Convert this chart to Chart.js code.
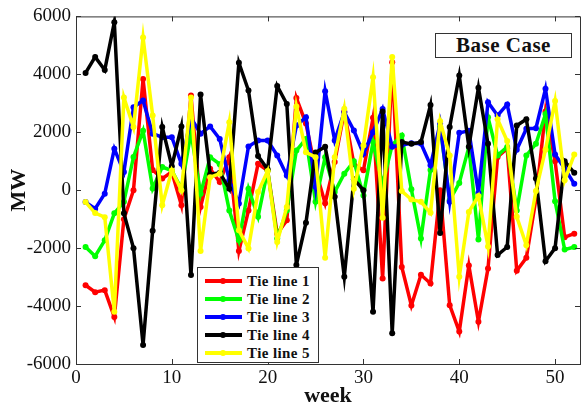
<!DOCTYPE html>
<html>
<head>
<meta charset="utf-8">
<script src="https://cdn.jsdelivr.net/npm/chart.js@4.4.1/dist/chart.umd.min.js"></script>
<style>
    html, body { margin: 0; padding: 0; background: #fff; overflow: hidden; }
    #wrap { position: relative; width: 583px; height: 410px; }
    #grafico { position: absolute; left: 0; top: 0; }
    .caixa { position: absolute; background: #fff; border: 1px solid #333; box-sizing: border-box;
             font-family: "Liberation Serif", "Times New Roman", serif; font-weight: bold; color: #111; }
    #legenda { left: 197px; top: 267px; width: 122px; height: 96px; padding-top: 4px; }
    .item { position: relative; height: 18px; }
    .traco { position: absolute; left: 7px; top: 7px; width: 37px; height: 4px; }
    .ponto { position: absolute; left: 22px; top: 6px; width: 6px; height: 6px; border-radius: 3px; }
    .nome { position: absolute; left: 49px; top: 0; font-size: 15px; letter-spacing: 0.4px; line-height: 18px; white-space: nowrap; }
    #titulo { left: 435px; top: 33px; width: 137px; height: 25px; font-size: 21px; letter-spacing: 0.5px; line-height: 23px; text-align: center; }
</style>
</head>
<body>
<div id="wrap">
    <canvas id="grafico" width="583" height="410"></canvas>
    <div id="legenda" class="caixa"></div>
    <div id="titulo" class="caixa">Base Case</div>
</div>
<script>
const semanas = [1, 2, 3, 4, 5, 6, 7, 8, 9, 10, 11, 12, 13, 14, 15, 16, 17, 18, 19, 20, 21, 22, 23, 24, 25, 26,
                 27, 28, 29, 30, 31, 32, 33, 34, 35, 36, 37, 38, 39, 40, 41, 42, 43, 44, 45, 46, 47, 48, 49, 50, 51, 52];

const tieLine1 = [-3280, -3520, -3450, -4380, -1000, 0, 3840, 700, 400, 630, -520, 3270, -580, 740, 280, 1140,
                  -2100, -700, 910, 680, -1500, -1040, 3180, 2300, 700, -450, 970, 2720, 900, 690, 2500, -3050,
                  4420, -2650, -3980, -2920, -3220, 0, -3970, -4880, -2600, -4540, -2700, 1150, 1440, -2780,
                  -2330, -300, 2720, 1000, -1620, -1500];
const tieLine2 = [-1960, -2280, -1730, -800, -400, 1150, 2050, 60, 800, 680, 50, 2000, -120, 1140, 900, -700,
                  -1730, 50, -920, 680, -1670, -700, 1370, 1770, -400, 1140, -60, 570, 1000, -180, 1660, 200,
                  1560, 1890, 30, -1670, 700, 2200, -350, 250, 1490, -1700, 2520, 1200, 1490, -700, 1200, 1600,
                  2630, -380, -2050, -1960];
const tieLine3 = [-410, -640, -120, 1430, 630, 2860, 3100, 1950, 1830, 1830, 910, 2500, 1950, 2200, 1770, 340,
                  -460, 1510, 1720, 1720, 1200, 510, 2230, 2520, 110, 3420, 1720, 2690, 2060, 1260, 2000, 2800,
                  1500, 1560, 1620, 1610, 860, 2300, -400, 1980, 2050, -100, 3040, 2580, 2960, 1400, 2120, 2140,
                  3500, 1230, 750, 220];
const tieLine4 = [4050, 4600, 4150, 5800, -800, -2000, -5340, -1400, 2180, 830, 2200, -2930, 3300, 550, 600, 50,
                  4400, 3440, 1180, 720, 3600, 2980, -2580, -1120, 1300, 1500, -230, -2990, 380, 0, -4200, 2720,
                  -4940, 1660, 1600, 1660, 2940, -1480, 2180, 3960, 1500, 3540, 1600, -2240, -1960, 2230, 2450,
                  400, -2450, -2000, 1000, 600];
const tieLine5 = [-410, -790, -930, -4200, 3200, 2180, 5270, 2580, -520, 680, 0, 3200, -2100, 450, 570, 2350,
                  -1380, -2010, -60, 660, -1790, -580, 2890, 1310, 1140, -2330, 1140, 2810, 50, 1540, 3900, -950,
                  4600, -30, -320, -400, -780, 2380, 1200, -2990, -750, -200, -1940, 2450, 1700, -920, -1900, -30,
                  1400, 3080, 340, 1230];

const nomes = ["Tie line 1", "Tie line 2", "Tie line 3", "Tie line 4", "Tie line 5"];
const cores = ["#ff0000", "#00ff00", "#0000ff", "#000000", "#ffff00"];
const series = [tieLine1, tieLine2, tieLine3, tieLine4, tieLine5];

const xTicks = [0, 10, 20, 30, 40, 50];
const yTicks = [-6000, -4000, -2000, 0, 2000, 4000, 6000];

const fonte = "'Liberation Serif', 'Times New Roman', serif";

// moldura com ticks para dentro, estilo matlab
const moldura = {
    id: "moldura",
    afterDraw(chart) {
        const { ctx, chartArea: a, scales } = chart;
        ctx.save();
        ctx.strokeStyle = "#333";
        ctx.lineWidth = 1;
        ctx.strokeRect(a.left + 0.5, a.top + 0.5, a.right - a.left, a.bottom - a.top);
        ctx.beginPath();
        xTicks.forEach(v => {
            const x = Math.round(scales.x.getPixelForValue(v)) + 0.5;
            ctx.moveTo(x, a.bottom); ctx.lineTo(x, a.bottom - 5);
            ctx.moveTo(x, a.top); ctx.lineTo(x, a.top + 5);
        });
        yTicks.forEach(v => {
            const y = Math.round(scales.y.getPixelForValue(v)) + 0.5;
            ctx.moveTo(a.left, y); ctx.lineTo(a.left + 5, y);
            ctx.moveTo(a.right, y); ctx.lineTo(a.right - 5, y);
        });
        ctx.stroke();
        ctx.restore();
    }
};

function montarDatasets() {
    return series.map((valores, i) => ({
        label: nomes[i],
        data: semanas.map((s, j) => ({ x: s, y: valores[j] })),
        borderColor: cores[i],
        backgroundColor: cores[i],
        borderWidth: 3.5,
        pointRadius: 3,
        pointBorderWidth: 0,
        pointHoverRadius: 3,
        order: series.length - i,
        tension: 0
    }));
}

function montarLegenda() {
    document.getElementById("legenda").innerHTML =
        nomes.map((n, i) => `
            <div class="item">
                <div class="traco" style="background:${cores[i]}"></div>
                <div class="ponto" style="background:${cores[i]}"></div>
                <span class="nome">${n}</span>
            </div>
        `).join("");
}

function criarGrafico() {
    new Chart(document.getElementById("grafico"), {
        type: "line",
        data: { datasets: montarDatasets() },
        options: {
            responsive: false,
            animation: false,
            layout: { padding: { top: 15, right: 0, left: 6, bottom: 0 } },
            plugins: { legend: { display: false }, tooltip: { enabled: false } },
            scales: {
                x: {
                    type: "linear",
                    min: 0,
                    max: 52.6,
                    grid: { display: false, drawTicks: false },
                    border: { display: false },
                    afterBuildTicks: s => { s.ticks = xTicks.map(v => ({ value: v })); },
                    afterFit: s => { s.height = 46; },
                    ticks: { font: { family: fonte, size: 19 }, color: "#111", padding: 3, maxRotation: 0,
                             callback: v => String(v) },
                    title: { display: true, text: "week", font: { family: fonte, size: 22, weight: "bold" },
                             color: "#111", padding: { top: 0, bottom: 0 } }
                },
                y: {
                    min: -6000,
                    max: 6000,
                    grid: { display: false, drawTicks: false },
                    border: { display: false },
                    afterBuildTicks: s => { s.ticks = yTicks.map(v => ({ value: v })); },
                    afterFit: s => { s.width = 70; },
                    ticks: { font: { family: fonte, size: 19 }, color: "#111", padding: 5,
                             callback: v => String(v) },
                    title: { display: true, text: "MW", font: { family: fonte, size: 22, weight: "bold" },
                             color: "#111", padding: { top: 0, bottom: 0 } }
                }
            }
        },
        plugins: [moldura]
    });
}

montarLegenda();
criarGrafico();
</script>
</body>
</html>
